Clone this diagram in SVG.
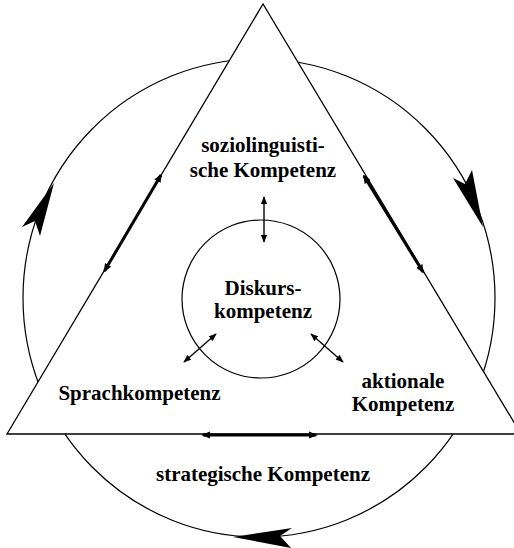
<svg xmlns="http://www.w3.org/2000/svg" width="514" height="548" viewBox="0 0 514 548">
<defs>
<style>
.lbl{font-family:"Liberation Serif","Times New Roman",serif;font-weight:bold;font-size:21px;fill:#000;text-anchor:middle}
.thin{stroke:#000;stroke-width:1.2;fill:none}
.big{stroke:#000;stroke-width:3;fill:none;marker-start:url(#ah);marker-end:url(#ah)}
.small{stroke:#000;stroke-width:1.4;fill:none;marker-start:url(#as);marker-end:url(#as)}
.head{fill:#000;stroke:none}
</style>
<marker id="ah" viewBox="0 0 10 8" refX="8" refY="4" markerWidth="9" markerHeight="7.5" orient="auto-start-reverse" markerUnits="userSpaceOnUse"><path d="M0,0 L10,4 L0,8 Z" fill="#000"/></marker>
<marker id="as" viewBox="0 0 10 8" refX="9" refY="4" markerWidth="8" markerHeight="6.5" orient="auto-start-reverse" markerUnits="userSpaceOnUse"><path d="M0,0 L10,4 L0,8 Z" fill="#000"/></marker>
</defs>
<rect width="514" height="548" fill="#fff"/>
<g id="outer-cycle">
<ellipse class="thin" cx="259" cy="298" rx="236" ry="239"/>
<polygon class="head" points="54,183 22,227 35,221 40,236"/>
<polygon class="head" points="483,227 453,178 465,184 472,170"/>
<polygon class="head" points="233,537 292,528 280,536 291,548"/>
</g>
<g id="triangle">
<polygon points="263,4 7,434 521,434" fill="#fff" stroke="#000" stroke-width="1.3"/>
</g>
<g id="diskurs">
<circle class="thin" cx="261" cy="299" r="79"/>
<text class="lbl" x="263" y="295">Diskurs-</text>
<text class="lbl" x="263" y="318">kompetenz</text>
</g>
<g id="sozio">
<text class="lbl" x="263" y="152">soziolinguisti-</text>
<text class="lbl" x="263" y="177">sche Kompetenz</text>
</g>
<g id="sprach">
<text class="lbl" x="139.5" y="400">Sprachkompetenz</text>
</g>
<g id="aktional">
<text class="lbl" x="403" y="388">aktionale</text>
<text class="lbl" x="403" y="411">Kompetenz</text>
</g>
<g id="strategisch">
<text class="lbl" x="263" y="481">strategische Kompetenz</text>
</g>
<g id="connectors">
<line class="big" x1="104.5" y1="271" x2="161" y2="175"/>
<line class="big" x1="364" y1="176" x2="423" y2="272"/>
<line class="big" x1="203" y1="435" x2="316" y2="435"/>
<line class="small" x1="264" y1="197" x2="264" y2="242"/>
<line class="small" x1="184" y1="362" x2="216" y2="334"/>
<line class="small" x1="311" y1="334" x2="343" y2="362"/>
</g>
</svg>
